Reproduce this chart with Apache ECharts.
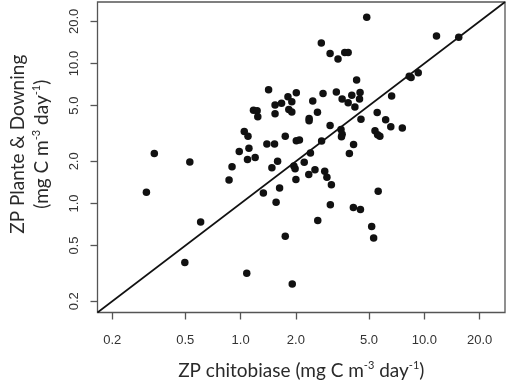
<!DOCTYPE html>
<html>
<head>
<meta charset="utf-8">
<script src="https://cdn.jsdelivr.net/npm/echarts@6/dist/echarts.min.js"></script>
<style>
  html,body{margin:0;padding:0;background:#fff;}
</style>
</head>
<body>
<div id="scatter" style="width:532px;height:386px"></div>
<script>
// ZP chitobiase (x) vs ZP Plante & Downing (y), mg C m-3 day-1
var chitobiase = [4.86, 11.65, 15.4, 2.75, 3.07, 3.69, 3.85, 3.39, 8.28, 8.47,
    9.27, 4.28, 1.42, 2.01, 2.81, 3.32, 4.47, 1.81, 3.57, 4.03,
    4.44, 6.64, 1.54, 1.67, 1.90, 2.47, 3.85, 4.19, 1.83, 1.90,
    1.54, 2.62, 5.54, 1.175, 1.23, 1.24, 2.36, 2.36, 4.52, 6.16,
    3.07, 6.57, 7.59, 3.52, 3.57, 3.54, 5.39, 5.57, 5.73, 1.75,
    2.01, 2.09, 2.76, 1.39, 1.53, 4.12, 2.40, 3.91, 1.20, 1.047,
    1.097, 0.983, 1.11, 1.09, 0.339, 0.529, 0.898, 0.865, 1.59, 1.48,
    1.95, 1.98, 2.22, 2.54, 2.35, 2.87, 2.95, 3.12, 2.00, 1.33,
    1.63, 5.61, 0.307, 1.56, 3.08, 4.11, 4.49, 2.63, 5.17, 5.30,
    1.75, 1.91, 0.606, 0.497, 1.08];
var planteDowning = [21.4, 15.7, 15.4, 13.98, 11.78, 11.97, 11.97, 10.78, 8.09, 7.93,
    8.58, 7.61, 6.50, 6.18, 6.11, 6.26, 6.21, 5.79, 5.57, 5.93,
    5.58, 5.86, 5.06, 5.19, 5.33, 5.39, 5.25, 4.88, 4.69, 4.51,
    4.37, 4.48, 4.46, 4.63, 4.59, 4.17, 4.04, 3.90, 4.00, 3.96,
    3.61, 3.53, 3.46, 3.38, 3.12, 3.00, 3.31, 3.10, 3.02, 3.02,
    2.80, 2.84, 2.79, 2.66, 2.66, 2.64, 2.29, 2.27, 2.13, 3.27,
    3.02, 2.35, 2.48, 2.06, 2.27, 1.98, 1.83, 1.47, 2.00, 1.80,
    1.85, 1.77, 1.97, 1.74, 1.61, 1.70, 1.54, 1.36, 1.48, 1.19,
    1.29, 1.22, 1.20, 1.02, 0.98, 0.937, 0.906, 0.755, 0.685, 0.567,
    0.584, 0.266, 0.737, 0.379, 0.317];
var tickValues = [0.2, 0.5, 1, 2, 5, 10, 20];
var axisRange = [0.1663, 27.5];   // same on both axes, 1:1 line runs corner to corner

var log10 = function(v){ return Math.log(v) / Math.LN10; };

var points = [];
for (var i = 0; i < chitobiase.length; i++) {
    points.push([log10(chitobiase[i]), log10(planteDowning[i])]);
}
var logTicks = tickValues.map(log10);
var logMin = log10(axisRange[0]), logMax = log10(axisRange[1]);

var tickFont = 'Liberation Sans, Arial, sans-serif';
var titleFont = 'Lato, Noto Sans, sans-serif';
var titleRich = {
    t: { fontFamily: titleFont, fontSize: 19, color: '#2a2a2a', lineHeight: 24 },
    s: { fontFamily: titleFont, fontSize: 11, color: '#2a2a2a', lineHeight: 24, padding: [0, 0, 10, 0] }
};

function makeAxis(name, extra) {
    var ax = {
        type: 'value',
        min: logMin,
        max: logMax,
        name: name,
        nameLocation: 'middle',
        nameTextStyle: { rich: titleRich },
        splitLine: { show: false },
        axisLine: { show: false, onZero: false },
        axisTick: {
            customValues: logTicks,
            length: 7,
            lineStyle: { color: '#555', width: 1.3 }
        },
        axisLabel: {
            customValues: logTicks,
            fontFamily: tickFont,
            fontSize: 13,
            color: '#333',
            formatter: function(v){ return Math.pow(10, v).toFixed(1); }
        }
    };
    for (var k in extra) ax[k] = extra[k];
    return ax;
}

var chart = echarts.init(document.getElementById('scatter'));
var xAxis = makeAxis('{t|ZP chitobiase (mg C m}{s|-3}{t| day}{s|-1}{t|)}', { nameGap: 46 });
xAxis.axisLabel.margin = 21;
var yAxis = makeAxis('{t|ZP Plante & Downing}\n{t|(mg C m}{s|-3}{t| day}{s|-1}{t|)}', { nameGap: 44 });
yAxis.axisLabel.margin = 17;
yAxis.axisLabel.rotate = 90;
yAxis.nameTextStyle.padding = [0, 0, 0, 26];

chart.setOption({
    backgroundColor: '#fff',
    animation: false,
    grid: {
        left: 95, right: 27, top: 2, bottom: 72,
        show: true,
        borderColor: '#555',
        borderWidth: 1.3
    },
    xAxis: xAxis,
    yAxis: yAxis,
    series: [
        {
            type: 'line',
            data: [[logMin, logMin], [logMax, logMax]],
            symbol: 'none',
            lineStyle: { color: '#111', width: 1.6 },
            silent: true
        },
        {
            type: 'scatter',
            data: points,
            symbolSize: 7.5,
            itemStyle: { color: '#111', opacity: 1 }
        }
    ]
});
</script>
</body>
</html>
